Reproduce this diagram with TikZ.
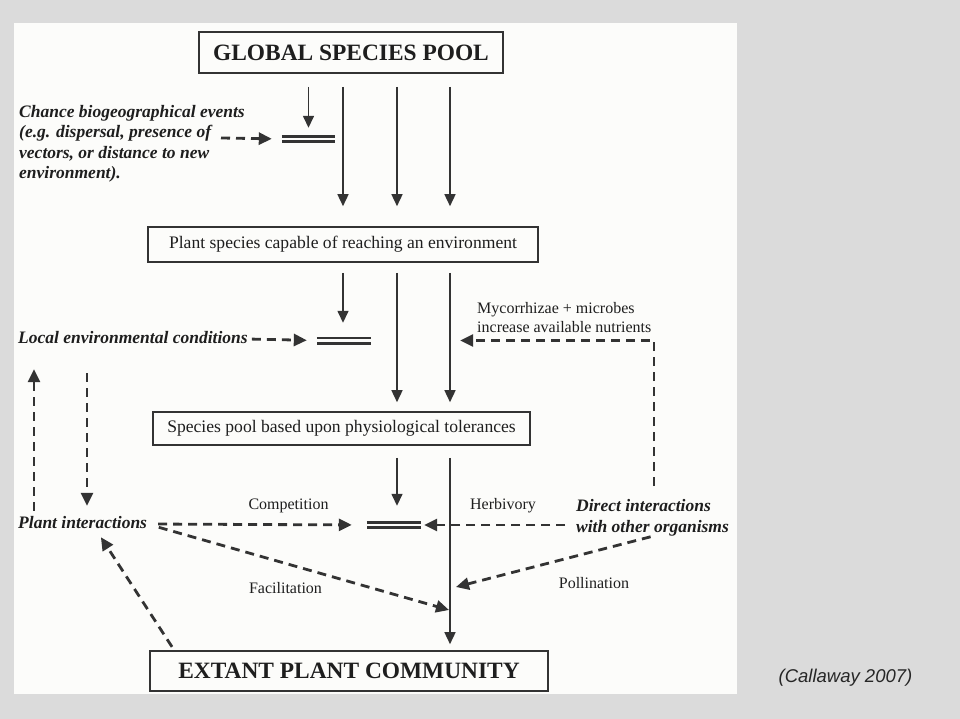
\documentclass[tikz,border=0pt]{standalone}
\usepackage{fontspec}
\setmainfont{Liberation Serif}
\newfontfamily\calfont{Liberation Sans}
\usetikzlibrary{arrows.meta,calc}
\definecolor{bggray}{HTML}{DBDBDB}
\definecolor{paper}{HTML}{FCFCFA}
\definecolor{ink}{HTML}{333333}
\definecolor{txt}{HTML}{1E1E1E}
\begin{document}
\begin{tikzpicture}[x=1pt,y=-1pt,
  box/.style={draw=ink, line width=1.6pt, inner sep=0pt, text=txt},
  lbl/.style={inner sep=0pt, text=txt, font=\fontsize{16}{19}\selectfont, text height=11pt, text depth=3.5pt},
  ital/.style={inner sep=0pt, text=txt, font=\fontsize{17.5}{21}\selectfont\bfseries\itshape},
  itall/.style={ital, text height=12pt, text depth=4pt},
  arr/.style={draw=ink, line width=1.5pt, -{Triangle[length=12pt,width=11pt]}},
  darr/.style={draw=ink, line width=2.8pt, dash pattern=on 9pt off 6pt, -{Triangle[length=13pt,width=12pt]}},
  bar/.style={inner sep=0pt, minimum height=8pt},
  dbl/.style={draw=ink, line width=2.8pt, double=paper, double distance=2.4pt}
]
\useasboundingbox (0,0) rectangle (960,719);
\fill[bggray] (0,0) rectangle (960,719);
\fill[paper] (14,23) rectangle (737,694);

% boxes
\node[box, minimum width=304pt, minimum height=41pt, font=\fontsize{23.4}{28}\selectfont\bfseries] (gsp) at (351,52.5) {GLOBAL SPECIES POOL};
\node[box, minimum width=390pt, minimum height=35pt, font=\fontsize{17.6}{20}\selectfont] (pscap) at (343,244.5) {Plant species capable of reaching an environment};
\node[box, minimum width=377pt, minimum height=33pt, font=\fontsize{17.6}{20}\selectfont] (spool) at (341.5,428.5) {Species pool based upon physiological tolerances};
\node[box, minimum width=398pt, minimum height=40pt, font=\fontsize{23.4}{28}\selectfont\bfseries] (extant) at (349,671) {EXTANT PLANT COMMUNITY};

% bars
\node[bar, minimum width=53pt] (bar1) at (308.5,139) {};
\node[bar, minimum width=54pt] (bar2) at (344,340.5) {};
\node[bar, minimum width=54pt] (bar3) at (394,525) {};
\foreach \b in {bar1,bar2,bar3} \draw[dbl] (\b.west) -- (\b.east);

% text labels
\node[ital, anchor=north west, align=left, font=\fontsize{17.5}{20.5}\selectfont\bfseries\itshape] (chance) at (19,105) {Chance biogeographical events\\(e.g. dispersal, presence of\\vectors, or distance to new\\environment).};
\node[itall, anchor=west] (locenv) at (18,339) {Local environmental conditions};
\node[itall, anchor=west] (plantint) at (18,524) {Plant interactions};
\node[ital, anchor=north west, align=left] (direct) at (576,499) {Direct interactions\\with other organisms};
\node[inner sep=0pt, text=txt, anchor=north west, align=left, font=\fontsize{16}{19}\selectfont] (myc) at (477,302) {Mycorrhizae + microbes\\increase available nutrients};
\node[lbl] (comp) at (288.5,506) {Competition};
\node[lbl] (herb) at (503,506) {Herbivory};
\node[lbl] (facil) at (285.5,589.5) {Facilitation};
\node[lbl] (poll) at (594,584.5) {Pollination};
\node[inner sep=0pt, text=black!85, font=\calfont\itshape\fontsize{18.5}{22}\selectfont] (cite) at (845.5,678) {(Callaway 2007)};

% columns and free ends
\coordinate (cA) at (343,0);
\coordinate (cB) at (397,0);
\coordinate (cC) at (450,0);
\coordinate (lA) at (34,0);
\coordinate (lB) at (87,0);
\coordinate (mR) at (654,0);
\coordinate (chE) at (221,138);
\coordinate (fT) at (449,610);
\coordinate (pT) at (456,587);

% solid arrows
\draw[arr, shorten <=13pt, shorten >=7pt] (gsp.south -| bar1) -- (bar1.north);
\foreach \c in {cA,cB,cC}
  \draw[arr, shorten <=13pt, shorten >=20pt] (gsp.south -| \c) -- (pscap.north -| \c);
\draw[arr, shorten <=10pt, shorten >=13.5pt] (pscap.south -| cA) -- (bar2.north -| cA);
\foreach \c in {cB,cC}
  \draw[arr, shorten <=10pt, shorten >=9pt] (pscap.south -| \c) -- (spool.north -| \c);
\draw[arr, shorten <=12pt, shorten >=15pt] (spool.south -| cB) -- (bar3.north -| cB);
\draw[arr, shorten <=12pt, shorten >=6pt] (spool.south -| cC) -- (extant.north -| cC);

% dashed arrows
\draw[darr, shorten >=10pt] (chE) -- (bar1.west);
\draw[darr, shorten <=4pt, shorten >=10pt] (locenv.east) -- (bar2.west);
\draw[darr, shorten <=13pt, shorten >=89pt] (direct.north -| mR) |- (bar2.east);
\draw[darr, shorten <=5pt, shorten >=22pt] (plantint.north -| lA) -- (locenv.south -| lA);
\draw[darr, shorten <=26pt, shorten >=10pt] (locenv.south -| lB) -- (plantint.north -| lB);
\draw[darr, shorten <=11pt, shorten >=15pt] (plantint.east) -- (bar3.west);
\draw[darr, shorten <=11pt, shorten >=3pt] (direct.west |- bar3) -- (bar3.east);
\draw[darr, shorten <=12pt] (plantint.east) -- (fT);
\draw[darr, shorten <=2pt] (direct.south) -- (pT);
\draw[darr, shorten <=4pt, shorten >=6pt] ([xshift=25pt]extant.north west) -- ([xshift=15pt]plantint.south);
\end{tikzpicture}
\end{document}
